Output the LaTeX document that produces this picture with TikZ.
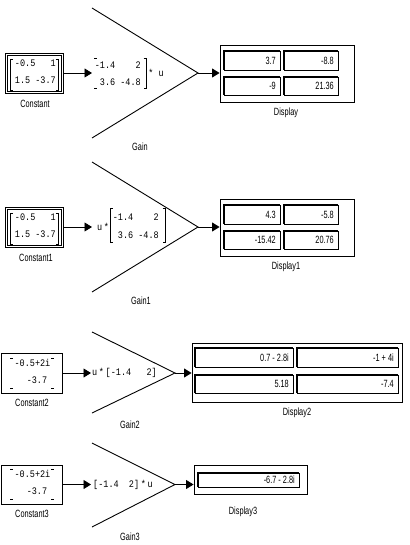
\documentclass[tikz,border=0pt]{standalone}
\usepackage{fontspec}
\setmainfont{Liberation Sans}[FakeStretch=0.7]
\newfontfamily\monof{Liberation Mono}[FakeStretch=0.85]
\usetikzlibrary{arrows.meta,calc}
\tikzset{
  lbl/.style={font=\fontsize{10.5}{12}\selectfont, inner sep=0pt},
  num/.style={font=\fontsize{10.5}{12}\selectfont, inner sep=0pt, anchor=east},
  mt/.style={font=\monof\fontsize{10}{12}\selectfont, inner sep=0pt},
  blk/.style={draw, line width=0.9pt, inner sep=0pt},
  cellline/.style={line width=0.7pt},
  cellshade/.style={line width=1.4pt},
  brk/.style={line width=0.7pt},
  wire/.style={line width=0.9pt, -{Triangle[length=7.5pt,width=9pt]}},
  tri/.style={line width=0.9pt},
}
\newcommand\dcell[6]{%
  \draw[cellline] (#2,#3) rectangle (#4,#5);
  \draw[cellshade] (#2,#5) -- (#2,#3) -- (#4,#3);
  \node[num] (#1) at ($(#4,#3)!0.5!(#4,#5)+(-4,0)$) {#6};}
\newcommand\brk[4]{%
  \draw[brk] (#1+2.5,#3) -- (#1,#3) -- (#1,#4) -- (#1+2.5,#4);
  \draw[brk] (#2-2.5,#3) -- (#2,#3) -- (#2,#4) -- (#2-2.5,#4);}
\begin{document}
\begin{tikzpicture}[x=1pt,y=-1pt]
\useasboundingbox[fill=white] (0,0) rectangle (409,545);

% ---------------- Row 1 ----------------
\node[blk, minimum width=58pt, minimum height=40pt] (c1) at (34,73) {};
\draw[line width=0.8pt] ($(c1.north west)+(2.5,2.5)$) rectangle ($(c1.south east)+(-2.5,-2.5)$);
\brk{10}{58}{59}{90}
\node[mt, anchor=east] (c1r1) at (56,63) {-0.5\ \ \ 1};
\node[mt, anchor=east] (c1r2) at (56,80) {1.5 -3.7};
\node[lbl] (c1l) at (35,104) {Constant};

\coordinate (g1i) at (92,73);
\coordinate (g1o) at (198,73);
\draw[tri] (92,8) -- (g1o) -- (92,138);
\draw[brk] (96.5,58) -- (94,58);
\draw[brk] (96.5,88) -- (94,88);
\draw[brk] (143.5,58) -- (146,58) -- (146,88) -- (143.5,88);
\node[mt, anchor=east] (g1r1) at (141,65) {-1.4\ \ \ \ 2};
\node[mt, anchor=east] (g1r2) at (141,82) {3.6 -4.8};
\node[mt] (g1u) at (156,73) {*\ u};
\node[lbl] (g1l) at (140,147) {Gain};

\node[blk, minimum width=134pt, minimum height=57pt] (d1) at (287,73.5) {};
\dcell{d1a}{224}{51}{280}{70}{3.7}
\dcell{d1b}{284}{51}{338}{70}{-8.8}
\dcell{d1c}{224}{77}{280}{95}{-9}
\dcell{d1d}{284}{77}{338}{95}{21.36}
\node[lbl] (d1l) at (286,113) {Display};

\draw[wire] (c1.east) -- (g1i);
\draw[wire] (g1o) -- (g1o -| d1.west);

% ---------------- Row 2 ----------------
\node[blk, minimum width=58pt, minimum height=40pt] (c2) at (34,227) {};
\draw[line width=0.8pt] ($(c2.north west)+(2.5,2.5)$) rectangle ($(c2.south east)+(-2.5,-2.5)$);
\brk{10}{58}{213}{244}
\node[mt, anchor=east] (c2r1) at (56,217) {-0.5\ \ \ 1};
\node[mt, anchor=east] (c2r2) at (56,234) {1.5 -3.7};
\node[lbl] (c2l) at (36,258) {Constant1};

\coordinate (g2i) at (92,227);
\coordinate (g2o) at (198,227);
\draw[tri] (92,162) -- (g2o) -- (92,292);
\node[mt] (g2u) at (103,227) {u\,*};
\brk{110}{165}{208}{242}
\node[mt, anchor=east] (g2r1) at (159,217) {-1.4\ \ \ \ 2};
\node[mt, anchor=east] (g2r2) at (159,235) {3.6 -4.8};
\node[lbl] (g2l) at (141,301) {Gain1};

\node[blk, minimum width=134pt, minimum height=57pt] (d2) at (287,227.5) {};
\dcell{d2a}{224}{205}{280}{224}{4.3}
\dcell{d2b}{284}{205}{338}{224}{-5.8}
\dcell{d2c}{224}{231}{280}{249}{-15.42}
\dcell{d2d}{284}{231}{338}{249}{20.76}
\node[lbl] (d2l) at (286,267) {Display1};

\draw[wire] (c2.east) -- (g2i);
\draw[wire] (g2o) -- (g2o -| d2.west);

% ---------------- Row 3 ----------------
\node[blk, minimum width=61pt, minimum height=40pt] (c3) at (31.5,373) {};
\draw[brk] (10,358) -- (13,358);
\draw[brk] (51,358) -- (54,358);
\draw[brk] (10,388) -- (13,388);
\draw[brk] (51,388) -- (54,388);
\node[mt] (c3r1) at (32.5,363) {-0.5+2i};
\node[mt] (c3r2) at (37,380) {-3.7};
\node[lbl] (c3l) at (32,403) {Constant2};

\coordinate (g3i) at (91,373);
\coordinate (g3o) at (175,373);
\draw[tri] (92,332) -- (g3o) -- (92,413);
\node[mt, anchor=west] (g3t) at (92,373) {u\,*\,[-1.4\ \ \ 2]};
\node[lbl] (g3l) at (130,425) {Gain2};

\node[blk, minimum width=210pt, minimum height=59pt] (d3) at (297,372.5) {};
\dcell{d3a}{195}{348}{293}{367}{0.7 - 2.8i}
\dcell{d3b}{297}{348}{398}{367}{-1 + 4i}
\dcell{d3c}{195}{375}{293}{393}{5.18}
\dcell{d3d}{297}{375}{398}{393}{-7.4}
\node[lbl] (d3l) at (297,413) {Display2};

\draw[wire] (c3.east) -- (g3i);
\draw[wire] (g3o) -- (g3o -| d3.west);

% ---------------- Row 4 ----------------
\node[blk, minimum width=61pt, minimum height=39pt] (c4) at (31.5,484.5) {};
\draw[brk] (10,469) -- (13,469);
\draw[brk] (51,469) -- (54,469);
\draw[brk] (10,499) -- (13,499);
\draw[brk] (51,499) -- (54,499);
\node[mt] (c4r1) at (32.5,474) {-0.5+2i};
\node[mt] (c4r2) at (37,491) {-3.7};
\node[lbl] (c4l) at (32,514) {Constant3};

\coordinate (g4i) at (91,484.5);
\coordinate (g4o) at (175,484.5);
\draw[tri] (92,443) -- (g4o) -- (92,527);
\node[mt, anchor=west] (g4t) at (93,484.5) {[-1.4\ \ 2]\,*\,u};
\node[lbl] (g4l) at (130,537) {Gain3};

\node[blk, minimum width=113pt, minimum height=29pt] (d4) at (250.5,479.5) {};
\dcell{d4a}{198}{473}{299}{487}{-6.7 - 2.8i}
\node[lbl] (d4l) at (243,512) {Display3};

\draw[wire] (c4.east) -- (g4i);
\draw[wire] (g4o) -- (g4o -| d4.west);
\end{tikzpicture}
\end{document}
